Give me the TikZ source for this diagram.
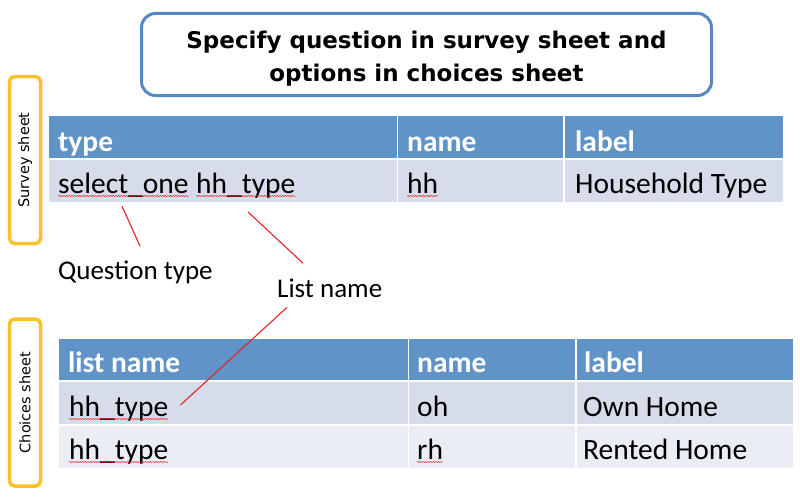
\documentclass[tikz,border=0pt]{standalone}
\usepackage{fontspec}
\setmainfont{Carlito}
\newfontfamily\comicfont{DejaVu Sans}
\usetikzlibrary{calc,decorations.pathmorphing}

\definecolor{headblue}{RGB}{96,147,199}
\definecolor{rowblue}{RGB}{214,220,233}
\definecolor{rowpale}{RGB}{234,237,243}
\definecolor{titleblue}{RGB}{86,136,195}
\definecolor{sheetgold}{RGB}{251,193,45}
\definecolor{markred}{RGB}{225,35,35}

\tikzset{
  cell/.style={anchor=north west, inner sep=0pt, minimum height=42},
  headtext/.style={anchor=base west, inner sep=0pt, text=white, font=\fontsize{29.5}{34}\selectfont\bfseries},
  celltext/.style={anchor=base west, inner sep=0pt, font=\fontsize{29.5}{34}\selectfont},
  calltext/.style={anchor=base west, inner sep=0pt, font=\fontsize{27}{32}\selectfont},
  titlebox/.style={draw=titleblue, line width=3pt, rounded corners=14pt, minimum width=570, minimum height=82},
  titletext/.style={align=center, inner sep=0pt, font=\comicfont\bfseries\fontsize{23}{33}\selectfont},
  sheetbox/.style={draw=sheetgold, line width=3.5pt, rounded corners=5pt, rotate=90,
    minimum width=167, minimum height=31, font=\comicfont\fontsize{14.5}{16}\selectfont},
  pointer/.style={markred, line width=1.1pt},
  spell/.style={markred, line width=0.4pt, decorate, decoration={snake, amplitude=0.7pt, segment length=2.6pt}}
}

\begin{document}
\begin{tikzpicture}[x=1pt,y=-1pt]
  \useasboundingbox (0,0) rectangle (800,503);

  % Title
  \node[titlebox] (title) at (426.5,54.5) {};
  \node[titletext] (title-text) at (426.5,59) {Specify question in survey sheet and\\options in choices sheet};

  % Sheet tags
  \node[sheetbox] (survey-tag) at (25,160) {Survey sheet};
  \node[sheetbox] (choices-tag) at (25,402.5) {Choices sheet};

  % Survey sheet table
  \node[cell, fill=headblue, minimum width=348] (s-h1) at (49,116) {};
  \node[cell, fill=headblue, minimum width=165] (s-h2) at (398,116) {};
  \node[cell, fill=headblue, minimum width=218] (s-h3) at (565,116) {};
  \node[cell, fill=rowblue, minimum width=348] (s-r1) at (49,160) {};
  \node[cell, fill=rowblue, minimum width=165] (s-r2) at (398,160) {};
  \node[cell, fill=rowblue, minimum width=218] (s-r3) at (565,160) {};
  \node[headtext] (s-type) at (58,151) {type};
  \node[headtext] (s-name) at (407,151) {name};
  \node[headtext] (s-label) at (575,151) {label};
  \node[celltext] (s-sel) at (58,193) {select\_one};
  \node[celltext] (s-list) at (196,193) {hh\_type};
  \node[celltext] (s-hh) at (407,193) {hh};
  \node[celltext] (s-hht) at (575,193) {Household Type};

  % Choices sheet table
  \node[cell, fill=headblue, minimum width=349, minimum height=41] (c-h1) at (59,339) {};
  \node[cell, fill=headblue, minimum width=166, minimum height=41] (c-h2) at (409,339) {};
  \node[cell, fill=headblue, minimum width=216, minimum height=41] (c-h3) at (577,339) {};
  \node[cell, fill=rowblue, minimum width=349] (c-a1) at (59,382) {};
  \node[cell, fill=rowblue, minimum width=166] (c-a2) at (409,382) {};
  \node[cell, fill=rowblue, minimum width=216] (c-a3) at (577,382) {};
  \node[cell, fill=rowpale, minimum width=349] (c-b1) at (59,426) {};
  \node[cell, fill=rowpale, minimum width=166] (c-b2) at (409,426) {};
  \node[cell, fill=rowpale, minimum width=216] (c-b3) at (577,426) {};
  \node[headtext] (c-lname) at (68,372) {list name};
  \node[headtext] (c-name) at (417,372) {name};
  \node[headtext] (c-label) at (584,372) {label};
  \node[celltext] (c-l1) at (69,416) {hh\_type};
  \node[celltext] (c-oh) at (417,416) {oh};
  \node[celltext] (c-own) at (583,416) {Own Home};
  \node[celltext] (c-l2) at (69,459) {hh\_type};
  \node[celltext] (c-rh) at (417,459) {rh};
  \node[celltext] (c-rent) at (583,459) {Rented Home};

  % Callouts
  \node[calltext] (qtype) at (58,279) {Question type};
  \node[calltext] (lname) at (277,297) {List name};
  \draw[pointer] ($(s-sel.south west)+(64,9)$) -- ($(qtype.north west)+(82,-14)$);
  \draw[pointer] ($(s-list.south west)+(52,14)$) -- ($(lname.north west)+(26,-15)$);
  \draw[pointer] ($(lname.south west)+(10,10)$) -- ($(c-l1.base east)+(12,-11)$);

  % Spell-check marks
  \draw[spell] ($(s-sel.base west)+(0,3)$) -- ($(s-sel.base east)+(0,3)$);
  \draw[spell] ($(s-list.base west)+(0,3)$) -- ($(s-list.base east)+(0,3)$);
  \draw[spell] ($(s-hh.base west)+(0,3)$) -- ($(s-hh.base east)+(0,3)$);
  \draw[spell] ($(c-l1.base west)+(0,3)$) -- ($(c-l1.base east)+(0,3)$);
  \draw[spell] ($(c-l2.base west)+(0,3)$) -- ($(c-l2.base east)+(0,3)$);
  \draw[spell] ($(c-rh.base west)+(0,3)$) -- ($(c-rh.base east)+(0,3)$);
\end{tikzpicture}
\end{document}
